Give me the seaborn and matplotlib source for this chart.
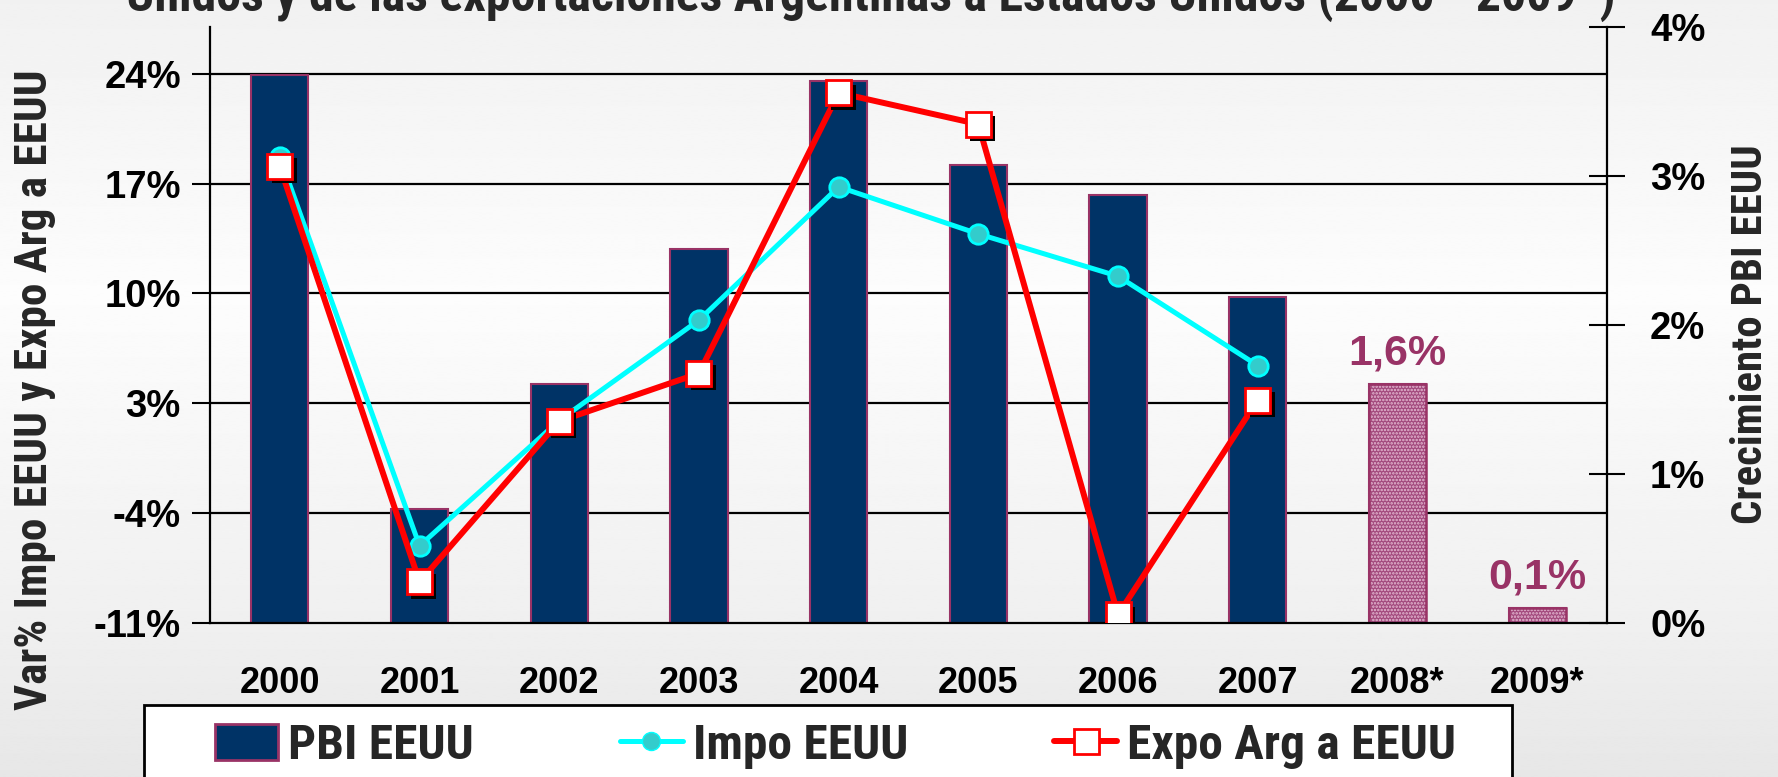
import numpy as np
import matplotlib
matplotlib.use("Agg")
import matplotlib.pyplot as plt
import matplotlib.patheffects as pe
from matplotlib import font_manager as fm
from matplotlib.lines import Line2D
from matplotlib.patches import Patch, Rectangle
from matplotlib.transforms import blended_transform_factory
import seaborn as sns

# ---------------- data ----------------
years = ['2000', '2001', '2002', '2003', '2004', '2005', '2006', '2007', '2008*', '2009*']
pbi_eeuu = [3.68, 0.76, 1.60, 2.51, 3.64, 3.07, 2.87, 2.19, 1.6, 0.1]   # right axis (%)
impo_eeuu = [18.7, -6.1, 1.9, 8.3, 16.8, 13.8, 11.1, 5.4]               # left axis (%)
expo_arg = [18.1, -8.4, 1.85, 4.9, 22.8, 20.8, -10.5, 3.2]               # left axis (%)
forecast_labels = ['1,6%', '0,1%']
left_ticks = [-11, -4, 3, 10, 17, 24]
right_ticks = [0, 1, 2, 3, 4]
title = 'Unidos y de las exportaciones Argentinas a Estados Unidos (2000 - 2009*)'
ylabel_left = 'Var% Impo EEUU y Expo Arg a EEUU'
ylabel_right = 'Crecimiento PBI EEUU'
legend_labels = ['PBI EEUU', 'Impo EEUU', 'Expo Arg a EEUU']

# ---------------- style ----------------
W, H, DPI = 1778, 777, 100
sns.set_theme(style='white')
names = {f.name for f in fm.fontManager.ttflist}
WIDE = 'Liberation Sans' if 'Liberation Sans' in names else 'DejaVu Sans'
NARROW = WIDE
for cand in ['Liberation Sans Narrow', 'Arial Narrow', 'Roboto Condensed',
             'Open Sans Condensed', 'Noto Sans Condensed']:
    if cand in names:
        NARROW = cand
        break
plt.rcParams['font.family'] = [WIDE, 'DejaVu Sans']
plt.rcParams['hatch.linewidth'] = 1.2
NFAM = [NARROW, 'DejaVu Sans']

NAVY = '#003366'
PLUM = '#993366'
FORE = '#a2487c'

fig = plt.figure(figsize=(W / DPI, H / DPI), dpi=DPI)

# background gradient
bg = fig.add_axes([0, 0, 1, 1], zorder=-10)
ys = np.linspace(0, 1, 500)
grad = np.interp(ys, [0, 0.38, 0.8, 1], [0.945, 0.99, 0.94, 0.905])[:, None]
bg.imshow(np.tile(grad, (1, 2)), aspect='auto', cmap='gray', vmin=0, vmax=1,
          interpolation='bilinear')
bg.axis('off')

L, R = 210 / W, 1607 / W
T, B = 1 - 27 / H, 1 - 622.6 / H
ax = fig.add_axes([L, B, R - L, T - B])
ax.set_facecolor('none')

n_fore = len(forecast_labels)
bar_colors = [NAVY] * (len(years) - n_fore) + [FORE] * n_fore
sns.barplot(x=years, y=pbi_eeuu, hue=years, palette=bar_colors, legend=False,
            width=0.41, saturation=1, errorbar=None, edgecolor=PLUM,
            linewidth=1.5, ax=ax, zorder=2)
fore_idx = list(range(len(years) - n_fore, len(years)))
ax.bar(fore_idx, [pbi_eeuu[i] for i in fore_idx], width=0.41, fill=False,
       hatch='.....', edgecolor='#e6bcd4', linewidth=0, zorder=2.1)
ax.bar(fore_idx, [pbi_eeuu[i] for i in fore_idx], width=0.41, fill=False,
       edgecolor=PLUM, linewidth=1.8, zorder=2.2)

ax2 = ax.twinx()
ax2.set_facecolor('none')
xpos = np.arange(len(impo_eeuu))
sns.lineplot(x=xpos, y=impo_eeuu, ax=ax2, color='#00ffff', lw=3.6, marker='o',
             markersize=14, markerfacecolor='#33cccc', markeredgecolor='#00ffff',
             markeredgewidth=2, zorder=3)
sns.lineplot(x=xpos, y=expo_arg, ax=ax2, color='#ff0000', lw=4.3, zorder=4)
ax2.plot(xpos, expo_arg, linestyle='none', marker='s', markersize=18,
         markerfacecolor='white', markeredgecolor='#ff0000', markeredgewidth=2,
         zorder=5,
         path_effects=[pe.SimplePatchShadow(offset=(3.2, -3.2), shadow_rgbFace='black', alpha=1),
                       pe.Normal()])

# limits
ax.set_ylim(0, 4)
ax2.set_ylim(-11, 27)
ax.set_xlim(-0.5, len(years) - 0.5)

# gridlines (left scale), drawn behind the bars
gtrans = blended_transform_factory(ax.transAxes, ax2.transData)
for t in left_ticks[1:]:
    ax.add_line(Line2D([0, 1], [t, t], transform=gtrans, color='black', lw=1.6, zorder=0.5))

# axes / ticks
ax.yaxis.tick_right()
ax2.yaxis.tick_left()
ax.set_yticks(right_ticks)
ax.set_yticklabels([f'{t}%' for t in right_ticks])
ax2.set_yticks(left_ticks)
ax2.set_yticklabels([f'{t}%' for t in left_ticks])
ax.set_xticks(range(len(years)))
ax.set_xticklabels(years)
for a in (ax, ax2):
    a.set_xlabel('')
    a.set_ylabel('')
    a.grid(False)

ax.tick_params(axis='y', direction='inout', length=26, width=1.5, color='black',
               pad=18, labelsize=27.5, right=True, left=False)
ax2.tick_params(axis='y', direction='out', length=13, width=1.5, color='black',
                pad=8, labelsize=27.5, left=True, right=False)
ax.tick_params(axis='x', length=0, pad=31, labelsize=26)
for lab in ax.get_yticklabels() + ax2.get_yticklabels() + ax.get_xticklabels():
    lab.set_fontweight('bold')
    lab.set_color('black')

for s in ['top', 'left']:
    ax.spines[s].set_visible(False)
for s in ['right', 'bottom']:
    ax.spines[s].set_color('black')
    ax.spines[s].set_linewidth(1.6)
for s in ['top', 'right', 'bottom']:
    ax2.spines[s].set_visible(False)
ax2.spines['left'].set_color('black')
ax2.spines['left'].set_linewidth(1.6)

# forecast labels
for i, lab in zip(fore_idx, forecast_labels):
    ax.annotate(lab, (i, pbi_eeuu[i]), xytext=(0, 14), textcoords='offset points',
                ha='center', va='baseline', color=PLUM, fontsize=31, fontweight='bold')

renderer = fig.canvas.get_renderer()


def fit(txt, target, dim):
    bb = txt.get_window_extent(renderer)
    cur = bb.width if dim == 'w' else bb.height
    txt.set_fontsize(txt.get_fontsize() * target / cur)


t_title = fig.text(871 / W, 1 - 11 / H, title, ha='center', va='baseline',
                   fontsize=32, fontweight='bold', family=NFAM)
fit(t_title, 1492, 'w')
t_l = fig.text(35 / W, 1 - 389.5 / H, ylabel_left, rotation=90, ha='center', va='center',
               fontsize=30, fontweight='bold', family=NFAM)
fit(t_l, 639, 'h')
t_r = fig.text(1750 / W, 1 - 334.5 / H, ylabel_right, rotation=90, ha='center', va='center',
               fontsize=30, fontweight='bold', family=NFAM)
fit(t_r, 379, 'h')

# legend
tmp = fig.text(0, 0, legend_labels[0], fontsize=30, fontweight='bold', family=NFAM)
fit(tmp, 185, 'w')
leg_fs = tmp.get_fontsize()
tmp.remove()

# legend frame (box extends past the bottom edge as in the reference)
fig.add_artist(Rectangle((144 / W, 1 - 800 / H), (1512 - 144) / W, 95 / H,
                         transform=fig.transFigure, facecolor='white',
                         edgecolor='black', linewidth=2, zorder=5))

handles = [
    Patch(facecolor=NAVY, edgecolor=PLUM, linewidth=2),
    Line2D([], [], color='#00ffff', lw=3.6, marker='o', markersize=13,
           markerfacecolor='#33cccc', markeredgecolor='#00ffff'),
    Line2D([], [], color='#ff0000', lw=4.3, marker='s', markersize=18,
           markerfacecolor='white', markeredgecolor='#ff0000', markeredgewidth=2),
]
leg = fig.legend(handles, legend_labels, loc='center left',
                 bbox_to_anchor=(215 / W, 1 - 746 / H, (1456 - 215) / W, 0.0),
                 bbox_transform=fig.transFigure, mode='expand', ncol=3,
                 borderaxespad=0, borderpad=0, handlelength=1.28, handleheight=0.75,
                 handletextpad=0.2, frameon=False,
                 prop={'family': NFAM, 'weight': 'bold', 'size': leg_fs})
leg.set_zorder(6)

fig.savefig('out.png', dpi=DPI)
